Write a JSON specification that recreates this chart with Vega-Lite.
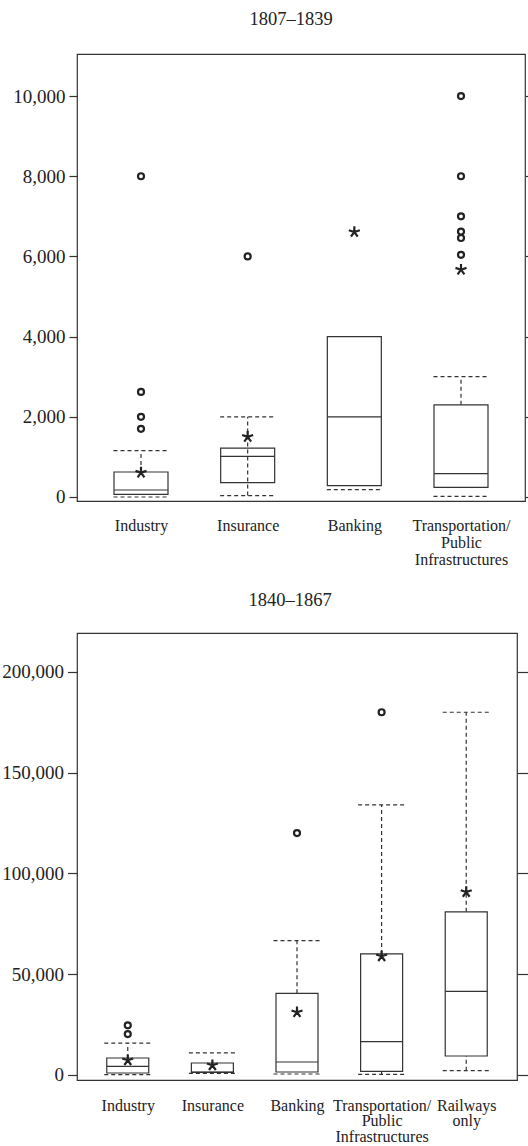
{
  "$schema": "https://vega.github.io/schema/vega-lite/v6.json",
  "padding": {"left": 1, "top": 8, "right": 0, "bottom": 0},
  "background": "white",
  "spacing": 21,
  "config": {
    "view": {"stroke": "#333", "strokeWidth": 1.2},
    "font": "Liberation Serif",
    "axis": {"grid": false, "labelFont": "Liberation Serif", "labelColor": "#222", "tickColor": "#333", "tickWidth": 1.2, "domain": false, "title": null},
    "title": {"font": "Liberation Serif", "fontSize": 18.5, "fontWeight": "normal", "color": "#222"}
  },
  "datasets": {
    "box1": [
      {"cat": "Industry", "q1": 67, "med": 175, "q3": 623},
      {"cat": "Insurance", "q1": 359, "med": 1014, "q3": 1220},
      {"cat": "Banking", "q1": 284, "med": 2000, "q3": 4000},
      {"cat": "Transportation/\nPublic\nInfrastructures", "q1": 242, "med": 583, "q3": 2300}
    ],
    "caps1": [
      {"cat": "Industry", "v": 0}, {"cat": "Industry", "v": 1155},
      {"cat": "Insurance", "v": 35}, {"cat": "Insurance", "v": 2000},
      {"cat": "Banking", "v": 184},
      {"cat": "Transportation/\nPublic\nInfrastructures", "v": 17},
      {"cat": "Transportation/\nPublic\nInfrastructures", "v": 3000}
    ],
    "wh1": [
      {"cat": "Industry", "lo": 623, "hi": 1155},
      {"cat": "Insurance", "lo": 35, "hi": 2000},
      {"cat": "Transportation/\nPublic\nInfrastructures", "lo": 2300, "hi": 3000}
    ],
    "out1": [
      {"cat": "Industry", "v": 8000}, {"cat": "Industry", "v": 2620}, {"cat": "Industry", "v": 2000}, {"cat": "Industry", "v": 1700},
      {"cat": "Insurance", "v": 6000},
      {"cat": "Transportation/\nPublic\nInfrastructures", "v": 10000},
      {"cat": "Transportation/\nPublic\nInfrastructures", "v": 8000},
      {"cat": "Transportation/\nPublic\nInfrastructures", "v": 7000},
      {"cat": "Transportation/\nPublic\nInfrastructures", "v": 6620},
      {"cat": "Transportation/\nPublic\nInfrastructures", "v": 6460},
      {"cat": "Transportation/\nPublic\nInfrastructures", "v": 6040}
    ],
    "mean1": [
      {"cat": "Industry", "v": 607},
      {"cat": "Insurance", "v": 1500},
      {"cat": "Banking", "v": 6610},
      {"cat": "Transportation/\nPublic\nInfrastructures", "v": 5670}
    ],
    "box2": [
      {"cat": "Industry", "q1": 840, "med": 4170, "q3": 8290},
      {"cat": "Insurance", "q1": 1190, "med": 1300, "q3": 5800},
      {"cat": "Banking", "q1": 1340, "med": 6300, "q3": 40400},
      {"cat": "Transportation/\nPublic\nInfrastructures", "q1": 1690, "med": 16400, "q3": 60000},
      {"cat": "Railways\nonly", "q1": 9280, "med": 41400, "q3": 80900}
    ],
    "caps2": [
      {"cat": "Industry", "v": 0}, {"cat": "Industry", "v": 15700},
      {"cat": "Insurance", "v": 700}, {"cat": "Insurance", "v": 10800},
      {"cat": "Banking", "v": 350}, {"cat": "Banking", "v": 66600},
      {"cat": "Transportation/\nPublic\nInfrastructures", "v": 200},
      {"cat": "Transportation/\nPublic\nInfrastructures", "v": 134000},
      {"cat": "Railways\nonly", "v": 2000}, {"cat": "Railways\nonly", "v": 180000}
    ],
    "wh2": [
      {"cat": "Industry", "lo": 8290, "hi": 15700},
      {"cat": "Banking", "lo": 40400, "hi": 66600},
      {"cat": "Transportation/\nPublic\nInfrastructures", "lo": 60000, "hi": 134000},
      {"cat": "Transportation/\nPublic\nInfrastructures", "lo": 200, "hi": 1690},
      {"cat": "Railways\nonly", "lo": 80900, "hi": 180000},
      {"cat": "Railways\nonly", "lo": 2000, "hi": 9280}
    ],
    "out2": [
      {"cat": "Industry", "v": 24500}, {"cat": "Industry", "v": 20200},
      {"cat": "Banking", "v": 120000},
      {"cat": "Transportation/\nPublic\nInfrastructures", "v": 180000}
    ],
    "mean2": [
      {"cat": "Industry", "v": 7150},
      {"cat": "Insurance", "v": 4660},
      {"cat": "Banking", "v": 31000},
      {"cat": "Transportation/\nPublic\nInfrastructures", "v": 58800},
      {"cat": "Railways\nonly", "v": 90700}
    ]
  },
  "vconcat": [
    {
      "width": 448, "height": 447,
      "title": {"text": "1807–1839", "offset": 26, "dx": -10},
      "encoding": {
        "x": {"field": "cat", "type": "nominal",
              "scale": {"type": "point", "padding": 0.6, "domain": ["Industry", "Insurance", "Banking", "Transportation/\nPublic\nInfrastructures"]},
              "axis": {"ticks": false, "labelAngle": 0, "labelFontSize": 16, "labelPadding": 16, "labelLineHeight": 17, "labelBaseline": "top", "labelLimit": 0, "labelOverlap": false, "labelExpr": "split(datum.label, '\\n')"}}
      },
      "layer": [
        {"data": {"name": "box1"},
         "mark": {"type": "bar", "size": 54, "fill": "white", "stroke": "#333", "strokeWidth": 1.2},
         "encoding": {
           "y": {"field": "q1", "type": "quantitative", "scale": {"domain": [-100, 11050], "nice": false, "zero": false},
                 "axis": {"orient": "left", "values": [0, 2000, 4000, 6000, 8000, 10000], "format": ",d", "labelFontSize": 19, "tickSize": 8, "labelPadding": 4}},
           "y2": {"field": "q3"}
         }},
        {"data": {"name": "box1"},
         "mark": {"type": "rule", "xOffset": -27, "x2Offset": 27, "color": "#333", "strokeWidth": 1.2},
         "encoding": {
           "x2": {"field": "cat"},
           "y": {"field": "med", "type": "quantitative",
                 "axis": {"orient": "right", "values": [0, 2000, 4000, 6000, 8000, 10000], "labels": false, "tickSize": 5}}
         }},
        {"data": {"name": "wh1"},
         "mark": {"type": "rule", "strokeDash": [4, 3], "color": "#333", "strokeWidth": 1.2},
         "encoding": {"y": {"field": "lo", "type": "quantitative", "axis": null}, "y2": {"field": "hi"}}},
        {"data": {"name": "caps1"},
         "mark": {"type": "rule", "strokeDash": [4, 3], "xOffset": -27.5, "x2Offset": 27.5, "color": "#333", "strokeWidth": 1.2},
         "encoding": {"x2": {"field": "cat"}, "y": {"field": "v", "type": "quantitative", "axis": null}}},
        {"data": {"name": "out1"},
         "mark": {"type": "point", "shape": "circle", "filled": false, "size": 36, "strokeWidth": 2.2, "color": "#222", "opacity": 1},
         "encoding": {"y": {"field": "v", "type": "quantitative", "axis": null}}},
        {"data": {"name": "mean1"},
         "mark": {"type": "point", "shape": "M0,0L0,-1M0,0L0.951,-0.309M0,0L-0.951,-0.309M0,0L0.588,0.809M0,0L-0.588,0.809", "filled": false, "size": 134, "strokeWidth": 2.2, "color": "#222", "opacity": 1},
         "encoding": {"y": {"field": "v", "type": "quantitative", "axis": null}}}
      ]
    },
    {
      "width": 440, "height": 447,
      "title": {"text": "1840–1867", "offset": 24, "dx": -7},
      "encoding": {
        "x": {"field": "cat", "type": "nominal",
              "scale": {"type": "point", "padding": 0.6, "domain": ["Industry", "Insurance", "Banking", "Transportation/\nPublic\nInfrastructures", "Railways\nonly"]},
              "axis": {"ticks": false, "labelAngle": 0, "labelFontSize": 16, "labelPadding": 17, "labelLineHeight": 15.5, "labelBaseline": "top", "labelLimit": 0, "labelOverlap": false, "labelExpr": "split(datum.label, '\\n')"}}
      },
      "layer": [
        {"data": {"name": "box2"},
         "mark": {"type": "bar", "size": 42, "fill": "white", "stroke": "#333", "strokeWidth": 1.2},
         "encoding": {
           "y": {"field": "q1", "type": "quantitative", "scale": {"domain": [-2630, 219350], "nice": false, "zero": false},
                 "axis": {"orient": "left", "values": [0, 50000, 100000, 150000, 200000], "format": ",d", "labelFontSize": 19, "tickSize": 9.5, "labelPadding": 4}},
           "y2": {"field": "q3"}
         }},
        {"data": {"name": "box2"},
         "mark": {"type": "rule", "xOffset": -21, "x2Offset": 21, "color": "#333", "strokeWidth": 1.2},
         "encoding": {
           "x2": {"field": "cat"},
           "y": {"field": "med", "type": "quantitative",
                 "axis": {"orient": "right", "values": [0, 50000, 100000, 150000, 200000], "labels": false, "tickSize": 10.5}}
         }},
        {"data": {"name": "wh2"},
         "mark": {"type": "rule", "strokeDash": [4, 3], "color": "#333", "strokeWidth": 1.2},
         "encoding": {"y": {"field": "lo", "type": "quantitative", "axis": null}, "y2": {"field": "hi"}}},
        {"data": {"name": "caps2"},
         "mark": {"type": "rule", "strokeDash": [4, 3], "xOffset": -23.5, "x2Offset": 23.5, "color": "#333", "strokeWidth": 1.2},
         "encoding": {"x2": {"field": "cat"}, "y": {"field": "v", "type": "quantitative", "axis": null}}},
        {"data": {"name": "out2"},
         "mark": {"type": "point", "shape": "circle", "filled": false, "size": 36, "strokeWidth": 2.2, "color": "#222", "opacity": 1},
         "encoding": {"y": {"field": "v", "type": "quantitative", "axis": null}}},
        {"data": {"name": "mean2"},
         "mark": {"type": "point", "shape": "M0,0L0,-1M0,0L0.951,-0.309M0,0L-0.951,-0.309M0,0L0.588,0.809M0,0L-0.588,0.809", "filled": false, "size": 134, "strokeWidth": 2.2, "color": "#222", "opacity": 1},
         "encoding": {"y": {"field": "v", "type": "quantitative", "axis": null}}}
      ]
    }
  ]
}
